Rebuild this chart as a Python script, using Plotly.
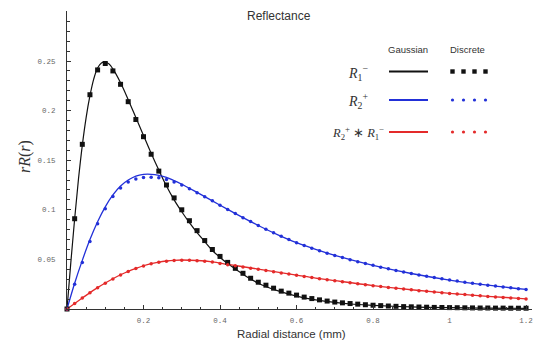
import plotly.graph_objects as go

# ---------------- data ----------------
r_discrete = [0.00, 0.02, 0.04, 0.06, 0.08, 0.10, 0.12, 0.14, 0.16, 0.18,
              0.20, 0.22, 0.24, 0.26, 0.28, 0.30, 0.32, 0.34, 0.36, 0.38,
              0.40, 0.42, 0.44, 0.46, 0.48, 0.50, 0.52, 0.54, 0.56, 0.58,
              0.60, 0.62, 0.64, 0.66, 0.68, 0.70, 0.72, 0.74, 0.76, 0.78,
              0.80, 0.82, 0.84, 0.86, 0.88, 0.90, 0.92, 0.94, 0.96, 0.98,
              1.00, 1.02, 1.04, 1.06, 1.08, 1.10, 1.12, 1.14, 1.16, 1.18, 1.20]

r1_minus_discrete = [0, 0.091, 0.166, 0.216, 0.241, 0.2475, 0.240, 0.2265, 0.209, 0.191,
                     0.1737, 0.156, 0.139, 0.125, 0.112, 0.100, 0.089, 0.079, 0.069, 0.060,
                     0.053, 0.047, 0.041, 0.036, 0.031, 0.027, 0.024, 0.021, 0.018, 0.016,
                     0.014, 0.012, 0.0105, 0.0092, 0.0080, 0.0070, 0.0062, 0.0055, 0.0049, 0.0043,
                     0.0038, 0.0034, 0.0030, 0.0027, 0.0024, 0.0022, 0.0020, 0.0018, 0.0016, 0.0015,
                     0.0014, 0.0013, 0.0012, 0.0011, 0.0010, 0.0010, 0.0009, 0.0009, 0.0008, 0.0008, 0.0008]

r2_plus_discrete = [0, 0.025, 0.047, 0.068, 0.086, 0.101, 0.1135, 0.122, 0.128, 0.131,
                    0.1325, 0.1328, 0.1322, 0.1305, 0.128, 0.125, 0.1212, 0.1173, 0.1132, 0.1090,
                    0.1047, 0.1004, 0.0962, 0.0921, 0.0881, 0.0842, 0.0804, 0.0768, 0.0733, 0.0700,
                    0.0668, 0.0640, 0.0613, 0.0588, 0.0563, 0.0540, 0.0518, 0.0497, 0.0477, 0.0458,
                    0.0440, 0.0422, 0.0405, 0.0389, 0.0373, 0.0358, 0.0344, 0.0330, 0.0317, 0.0304,
                    0.0292, 0.0281, 0.0270, 0.0259, 0.0249, 0.0240, 0.0231, 0.0222, 0.0213, 0.0205, 0.0197]

conv_discrete = [0, 0.0055, 0.0110, 0.0163, 0.0213, 0.0260, 0.0303, 0.0343, 0.0378, 0.0408,
                 0.0434, 0.0455, 0.0471, 0.0482, 0.0489, 0.0492, 0.0491, 0.0487, 0.0481, 0.0473,
                 0.0458, 0.0447, 0.0436, 0.0424, 0.0412, 0.0400, 0.0388, 0.0376, 0.0364, 0.0352,
                 0.0340, 0.0328, 0.0317, 0.0306, 0.0295, 0.0284, 0.0274, 0.0264, 0.0254, 0.0244,
                 0.0235, 0.0226, 0.0217, 0.0209, 0.0201, 0.0193, 0.0185, 0.0178, 0.0171, 0.0164,
                 0.0157, 0.0151, 0.0145, 0.0139, 0.0133, 0.0127, 0.0122, 0.0117, 0.0112, 0.0107, 0.0102]

r1_line = [0, 0.01, 0.02, 0.03, 0.04, 0.05, 0.06, 0.07, 0.08, 0.09, 0.10, 0.11, 0.12,
           0.14, 0.16, 0.18, 0.20, 0.22, 0.24, 0.26, 0.28, 0.30, 0.32, 0.34, 0.36, 0.38,
           0.40, 0.43, 0.46, 0.50, 0.55, 0.60, 0.65, 0.70, 0.75, 0.80, 0.90, 1.00, 1.10, 1.20]
r1_minus_gauss = [0, 0.047, 0.091, 0.131, 0.165, 0.193, 0.215, 0.232, 0.243, 0.248, 0.249, 0.247, 0.242,
                  0.228, 0.211, 0.193, 0.175, 0.157, 0.140, 0.124, 0.110, 0.098, 0.087, 0.077, 0.068, 0.059,
                  0.052, 0.043, 0.035, 0.026, 0.0185, 0.013, 0.0092, 0.0066, 0.0048, 0.0036, 0.0021, 0.0013, 0.0009, 0.0006]

r_line = [0.00, 0.02, 0.04, 0.06, 0.08, 0.10, 0.12, 0.14, 0.16, 0.18, 0.20, 0.22, 0.24,
          0.26, 0.28, 0.30, 0.34, 0.38, 0.42, 0.46, 0.50, 0.55, 0.60, 0.65, 0.70, 0.80,
          0.90, 1.00, 1.10, 1.20]
r2_plus_gauss = [0, 0.026, 0.049, 0.070, 0.088, 0.103, 0.115, 0.124, 0.130, 0.134, 0.1357, 0.1358, 0.1348,
                 0.1328, 0.1295, 0.1258, 0.1175, 0.1090, 0.1004, 0.0921, 0.0842, 0.0750, 0.0668, 0.0600, 0.0540, 0.0440,
                 0.0358, 0.0292, 0.0240, 0.0197]
conv_gauss = [0, 0.0056, 0.0111, 0.0165, 0.0215, 0.0262, 0.0305, 0.0345, 0.0380, 0.0410, 0.0436, 0.0457, 0.0473,
              0.0484, 0.0491, 0.0494, 0.0489, 0.0475, 0.0449, 0.0426, 0.0402, 0.0372, 0.0342, 0.0312, 0.0286, 0.0236,
              0.0194, 0.0158, 0.0128, 0.0103]

x_tickvals = [0.2, 0.4, 0.6, 0.8, 1.0, 1.2]
x_ticktext = ["0.2", "0.4", "0.6", "0.8", "1", "1.2"]
y_tickvals = [0.05, 0.10, 0.15, 0.20, 0.25]
y_ticktext = ["0.05", "0.1", "0.15", "0.2", "0.25"]

BLACK = "#111111"
BLUE = "#2230d8"
RED = "#e42a2a"

# ---------------- geometry ----------------
W, H = 533, 347
L, R, T, B = 67, 1, 11, 38
PW, PH = W - L - R, H - T - B


def px(xp):
    return (xp - L) / PW


def py(yp):
    return (H - B - yp) / PH


fig = go.Figure()

for xs, ys, col, w in [(r1_line, r1_minus_gauss, BLACK, 1.2),
                       (r_line, r2_plus_gauss, BLUE, 1.3),
                       (r_line, conv_gauss, RED, 1.3)]:
    fig.add_trace(go.Scatter(x=xs, y=ys, mode="lines", line=dict(color=col, width=w, shape="spline"),
                             showlegend=False, hoverinfo="skip", cliponaxis=False))

fig.add_trace(go.Scatter(x=r_discrete, y=r1_minus_discrete, mode="markers",
                         marker=dict(symbol="square", size=5, color=BLACK), showlegend=False, cliponaxis=False))
fig.add_trace(go.Scatter(x=r_discrete, y=r2_plus_discrete, mode="markers",
                         marker=dict(symbol="circle", size=3.5, color=BLUE), showlegend=False, cliponaxis=False))
fig.add_trace(go.Scatter(x=r_discrete, y=conv_discrete, mode="markers",
                         marker=dict(symbol="circle", size=3.5, color=RED), showlegend=False, cliponaxis=False))

tickfont = dict(family="Liberation Mono", size=7.5, color="#666666")
fig.update_xaxes(range=[0, 1.2155], showline=True, linecolor="#333333", linewidth=1,
                 ticks="inside", ticklen=4, tickcolor="#333333", tickmode="array",
                 tickvals=x_tickvals, ticktext=x_ticktext, tickfont=tickfont,
                 minor=dict(tick0=0, dtick=0.05, ticks="inside", ticklen=2.5, tickcolor="#333333"),
                 showgrid=False, zeroline=False, ticklabelstandoff=4)
fig.update_yaxes(range=[0, PH / 992.0], showline=True, linecolor="#333333", linewidth=1,
                 ticks="inside", ticklen=4, tickcolor="#333333", tickmode="array",
                 tickvals=y_tickvals, ticktext=y_ticktext, tickfont=tickfont,
                 minor=dict(tick0=0, dtick=0.01, ticks="inside", ticklen=2.5, tickcolor="#333333"),
                 showgrid=False, zeroline=False, ticklabelstandoff=9)

ann = []
sans = "Liberation Sans"
serif = "Liberation Serif"
ann.append(dict(x=px(278.5), y=py(16), text="Reflectance", font=dict(family=sans, size=12, color="#333333")))
ann.append(dict(x=px(291), y=py(334), text="Radial distance (mm)", font=dict(family=sans, size=11.5, color="#333333")))
ann.append(dict(x=px(25), y=py(157), text="<i>rR</i>(<i>r</i>)", textangle=-90,
                font=dict(family=serif, size=16, color="#333333")))
ann.append(dict(x=px(408.3), y=py(50), text="Gaussian", font=dict(family=sans, size=9.5, color="#333333")))
ann.append(dict(x=px(467.3), y=py(50), text="Discrete", font=dict(family=sans, size=9.5, color="#333333")))

rows = [("<i>R</i><sub>1</sub><sup>−</sup>", 71.5, BLACK, "square", 14),
        ("<i>R</i><sub>2</sub><sup>+</sup>", 100, BLUE, "circle", 14),
        ("<i>R</i><sub>2</sub><sup>+</sup> ∗ <i>R</i><sub>1</sub><sup>−</sup>", 132, RED, "circle", 12.5)]
shapes = []
for label, yy, col, sym, fs in rows:
    ann.append(dict(x=px(358), y=py(yy + 1), text=label, font=dict(family=serif, size=fs, color="#333333")))
    shapes.append(dict(type="line", xref="paper", yref="paper", x0=px(389), x1=px(428), y0=py(yy), y1=py(yy),
                       line=dict(color=col, width=2)))
    for xc in [452.5, 463.5, 474.5, 485.5]:
        h = 2.2 if sym == "square" else 1.6
        shapes.append(dict(type="rect" if sym == "square" else "circle", xref="paper", yref="paper",
                           x0=px(xc - h), x1=px(xc + h), y0=py(yy - h), y1=py(yy + h),
                           fillcolor=col, line=dict(width=0)))

for a in ann:
    a.update(xref="paper", yref="paper", showarrow=False, xanchor="center", yanchor="middle")

fig.update_layout(width=W, height=H, margin=dict(l=L, r=R, t=T, b=B, pad=0),
                  paper_bgcolor="white", plot_bgcolor="white",
                  annotations=ann, shapes=shapes, showlegend=False)

fig.write_html("out.html", config={"displayModeBar": False},
               post_script="document.body.style.margin='0';document.body.style.padding='0';"
                           "document.documentElement.style.overflow='hidden';")
